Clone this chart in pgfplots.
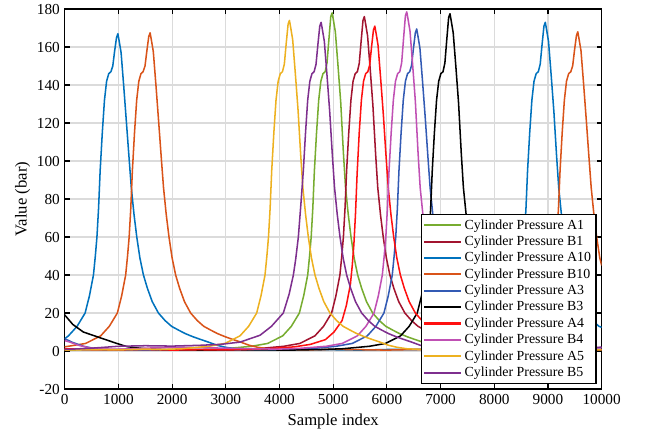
\documentclass[border=0pt]{standalone}
\usepackage{pgfplots}
\pgfplotsset{compat=1.18}
\usepackage{fontspec}
\setmainfont{Liberation Serif}

\definecolor{cA1}{HTML}{77AC30}
\definecolor{cB1}{HTML}{A2142F}
\definecolor{cA10}{HTML}{0072BD}
\definecolor{cB10}{HTML}{D95319}
\definecolor{cA3}{HTML}{325AB4}
\definecolor{cB3}{HTML}{000000}
\definecolor{cA4}{HTML}{FF1010}
\definecolor{cB4}{HTML}{C050B4}
\definecolor{cA5}{HTML}{EDB120}
\definecolor{cB5}{HTML}{7E2F8E}

\begin{document}
\begin{tikzpicture}
\useasboundingbox (-46.6pt,-33.8pt) rectangle (421.4pt,280.1pt);
\begin{axis}[
    scale only axis,
    width=386.6pt, height=273.6pt,
    xmin=0, xmax=10000, ymin=-20, ymax=180,
    xtick={0,1000,...,10000},
    ytick={-20,0,20,...,180},
    yticklabels={-20,0,20,40,60,80,100,120,140,160,180},
    scaled x ticks=false,
    xticklabel style={/pgf/number format/.cd, fixed, 1000 sep={}},
    /pgf/number format/assume math mode=true,
    tick label style={font=\fontsize{11}{13}\selectfont},
    label style={font=\fontsize{12}{14}\selectfont},
    xlabel={Sample index},
    ylabel={Value (bar)},
    ylabel style={yshift=-2pt},
    tick align=inside, tick pos=both,
    major tick length=3.6pt,
    axis line style={line width=1pt},
    every tick/.style={line width=0.8pt, black},
    grid=major,
    grid style={line width=0.8pt, gray!28},
    every axis plot/.append style={line width=1.1pt, line join=round},
    legend cell align=left,
    legend style={at={(1,0)}, anchor=south east, xshift=-3.6pt, yshift=3.6pt,
        draw=black, line width=1pt, font=\fontsize{10}{12}\selectfont,
        inner sep=1.5pt, row sep=-0.65pt},
    legend image code/.code={\draw[#1, line width=1.45pt] (0cm,0cm) -- (0.92cm,0cm);},
]
% A1
\addplot[cA1] coordinates {
(0,0.6) (500,0.8) (1000,0.5) (1500,0.9) (2000,0.6) (2580,0.8) (2980,1.2) (3480,2.5) (3780,4) (4060,8) (4220,13) (4370,20) (4450,29) (4525,40) (4560,50) (4590,60) (4620,75) (4650,95) (4690,115) (4730,132) (4770,142) (4810,146) (4850,147) (4885,151.7) (4920,164) (4955,176) (4980,178) (5005,174) (5040,168) (5090,150) (5140,131) (5190,104.3) (5230,86) (5280,72) (5332,60) (5390,49) (5456,40) (5530,33) (5620,26) (5735,20) (5860,16) (5980,13) (6110,11) (6233,9.2) (6380,7.5) (6530,6) (6666,4.7) (6830,3) (6980,2) (7162,1.2) (7480,0.8) (8000,0.6) (8500,0.9) (9000,0.7) (9500,0.5) (10000,0.8)
};
% B1
\addplot[cB1] coordinates {
(0,1.0) (500,0.7) (1000,0.9) (1500,0.6) (2000,0.8) (2500,0.7) (3180,0.8) (3580,1.2) (4080,2.5) (4380,4) (4660,8) (4820,13) (4970,20) (5050,29) (5125,40) (5160,50) (5190,60) (5220,75) (5250,95) (5290,115) (5330,132) (5370,142) (5410,146) (5450,147) (5485,151.4) (5520,163) (5555,174) (5580,176) (5605,172) (5640,166) (5690,148) (5740,129) (5790,103.7) (5830,86) (5880,72) (5932,60) (5990,49) (6056,40) (6130,33) (6220,26) (6335,20) (6460,16) (6580,13) (6710,11) (6833,9.2) (6980,7.5) (7130,6) (7266,4.7) (7430,3) (7580,2) (7762,1.2) (8080,0.8) (8500,0.6) (9000,0.9) (9500,0.7) (10000,0.6)
};
% A10
\addplot[cA10] coordinates {
(0,6.5) (70,8) (230,13) (380,20) (460,29) (535,40) (570,50) (600,60) (630,75) (660,95) (700,115) (740,132) (780,142) (820,146) (860,147) (895,150) (930,158) (965,165) (990,167) (1015,163) (1050,157) (1100,139) (1150,120) (1200,101) (1240,86) (1290,72) (1342,60) (1400,49) (1466,40) (1540,33) (1630,26) (1745,20) (1870,16) (1990,13) (2120,11) (2243,9.2) (2390,7.5) (2540,6) (2676,4.7) (2840,3) (2990,2) (3172,1.2) (3490,0.8) (4000,0.6) (4500,0.9) (5000,0.7) (5500,0.5) (6000,0.8) (6550,0.8) (6950,1.2) (7450,2.5) (7750,4) (8030,8) (8190,13) (8340,20) (8420,29) (8495,40) (8530,50) (8560,60) (8590,75) (8620,95) (8660,115) (8700,132) (8740,142) (8780,146) (8820,147) (8855,150.9) (8890,161.3) (8925,171) (8950,173) (8975,169) (9010,163) (9060,145) (9110,126) (9160,102.8) (9200,86) (9250,72) (9302,60) (9360,49) (9426,40) (9500,33) (9590,26) (9705,20) (9830,16) (9950,13) (10000,12.5)
};
% B10
\addplot[cB10] coordinates {
(0,2.2) (390,4) (670,8) (830,13) (980,20) (1060,29) (1135,40) (1170,50) (1200,60) (1230,75) (1260,95) (1300,115) (1340,132) (1380,142) (1420,146) (1460,147) (1495,150) (1530,158) (1565,165.5) (1590,167.5) (1615,163.5) (1650,157.5) (1700,139.5) (1750,120.5) (1800,101) (1840,86) (1890,72) (1942,60) (2000,49) (2066,40) (2140,33) (2230,26) (2345,20) (2470,16) (2590,13) (2720,11) (2843,9.2) (2990,7.5) (3140,6) (3276,4.7) (3440,3) (3590,2) (3772,1.2) (4090,0.8) (4500,0.6) (5000,0.9) (5500,0.7) (6000,0.5) (6500,0.8) (7155,0.8) (7555,1.2) (8055,2.5) (8355,4) (8635,8) (8795,13) (8945,20) (9025,29) (9100,40) (9135,50) (9165,60) (9195,75) (9225,95) (9265,115) (9305,132) (9345,142) (9385,146) (9425,147) (9460,150.1) (9495,158.5) (9530,166) (9555,168) (9580,164) (9615,158) (9665,140) (9715,121) (9765,101.3) (9805,86) (9855,72) (9907,60) (9965,49) (10000,45)
};
% A3
\addplot[cA3] coordinates {
(0,6.5) (150,4.5) (350,2.5) (600,1) (900,0.5) (1500,0.6) (2000,0.5) (2500,0.8) (3000,0.6) (3500,0.7) (4155,0.8) (4555,1.2) (5055,2.5) (5355,4) (5635,8) (5795,13) (5945,20) (6025,29) (6100,40) (6135,50) (6165,60) (6195,75) (6225,95) (6265,115) (6305,132) (6345,142) (6385,146) (6425,147) (6460,150.4) (6495,159.4) (6530,167.5) (6555,169.5) (6580,165.5) (6615,159.5) (6665,141.5) (6715,122.5) (6765,101.8) (6805,86) (6855,72) (6907,60) (6965,49) (7031,40) (7105,33) (7195,26) (7310,20) (7435,16) (7555,13) (7685,11) (7808,9.2) (7955,7.5) (8105,6) (8241,4.7) (8405,3) (8555,2) (8737,1.2) (9055,0.8) (9500,0.6) (10000,0.9)
};
% B3
\addplot[cB3] coordinates {
(0,19) (150,14) (347,10) (657,7) (970,4) (1160,2.3) (1500,1.2) (1800,0.8) (2200,0.6) (2700,0.5) (3200,0.7) (3700,0.6) (4200,0.5) (4775,0.8) (5175,1.2) (5675,2.5) (5975,4) (6255,8) (6415,13) (6565,20) (6645,29) (6720,40) (6755,50) (6785,60) (6815,75) (6845,95) (6885,115) (6925,132) (6965,142) (7005,146) (7045,147) (7080,151.6) (7115,163.8) (7150,175.5) (7175,177.5) (7200,173.5) (7235,167.5) (7285,149.5) (7335,130.5) (7385,104.2) (7425,86) (7475,72) (7527,60) (7585,49) (7651,40) (7725,33) (7815,26) (7930,20) (8055,16) (8175,13) (8305,11) (8428,9.2) (8575,7.5) (8725,6) (8861,4.7) (9025,3) (9175,2) (9357,1.2) (9675,0.8) (10000,0.6)
};
% A4
\addplot[cA4] coordinates {
(0,1.2) (500,0.8) (1000,0.6) (1500,0.9) (2000,0.5) (2500,0.7) (3000,0.6) (3375,0.8) (3775,1.2) (4275,2.2) (4575,3.5) (4855,6) (5015,10) (5165,16) (5245,24) (5320,35) (5355,45) (5385,56) (5415,72) (5445,93) (5485,115) (5525,132) (5565,142) (5605,146) (5645,147) (5680,150.6) (5715,160.2) (5750,169) (5775,171) (5800,167) (5835,161) (5885,143) (5935,124) (5985,102.2) (6025,86) (6075,72) (6127,60) (6185,49) (6251,40) (6325,33) (6415,26) (6530,20) (6655,16) (6775,13) (6905,11) (7028,9.2) (7175,7.5) (7325,6) (7461,4.7) (7625,3) (7775,2) (7957,1.2) (8275,0.8) (8800,0.6) (9400,0.9) (10000,0.7)
};
% B4
\addplot[cB4] coordinates {
(0,5.5) (96,4.7) (260,3) (410,2) (592,1.2) (910,0.8) (1500,1.5) (2000,2.0) (2500,1.8) (3000,1.5) (3500,1.2) (3970,1.0) (4370,1.4) (4870,2.5) (5170,4) (5450,8) (5610,13) (5760,20) (5840,29) (5915,40) (5950,50) (5980,60) (6010,75) (6040,95) (6080,115) (6120,132) (6160,142) (6200,146) (6240,147) (6275,151.7) (6310,164.3) (6345,176.5) (6370,178.5) (6395,174.5) (6430,168.5) (6480,150.5) (6530,131.5) (6580,104.5) (6620,86) (6670,72) (6722,60) (6780,49) (6846,40) (6920,33) (7010,26) (7125,20) (7250,16) (7370,13) (7500,11) (7623,9.2) (7770,7.5) (7920,6) (8056,4.7) (8220,3) (8370,2) (8552,1.2) (8870,0.8) (9400,1.2) (10000,1.8)
};
% A5
\addplot[cA5] coordinates {
(0,0.5) (500,0.8) (1000,0.6) (1500,1.0) (1785,0.8) (2185,1.2) (2685,2.5) (2985,4) (3265,8) (3425,13) (3575,20) (3655,29) (3730,40) (3765,50) (3795,60) (3825,75) (3855,95) (3895,115) (3935,132) (3975,142) (4015,146) (4055,147) (4090,151) (4125,161.9) (4160,172) (4185,174) (4210,170) (4245,164) (4295,146) (4345,127) (4395,103.1) (4435,86) (4485,72) (4537,60) (4595,49) (4661,40) (4735,33) (4825,26) (4940,20) (5065,16) (5185,13) (5315,11) (5438,9.2) (5585,7.5) (5735,6) (5871,4.7) (6035,3) (6185,2) (6367,1.2) (6685,0.8) (7200,0.6) (7800,0.9) (8400,0.7) (9000,0.5) (9500,0.8) (10000,0.6)
};
% B5
\addplot[cB5] coordinates {
(0,0.8) (500,1.5) (1000,2.5) (1500,2.8) (2000,2.6) (2500,3.0) (2900,3.5) (3265,4.7) (3637,8.3) (3850,13) (4071,20) (4180,30) (4258,40) (4300,48) (4351,60) (4400,78) (4444,95) (4485,115) (4525,132) (4565,142) (4605,146) (4645,147) (4680,150.9) (4715,161.3) (4750,171) (4775,173) (4800,169) (4835,163) (4885,145) (4935,126) (4985,102.8) (5025,86) (5075,72) (5127,60) (5185,49) (5251,40) (5325,33) (5415,26) (5530,20) (5655,16) (5775,13) (5905,11) (6028,9.2) (6175,7.5) (6325,6) (6461,4.7) (6625,3) (6775,2) (6957,1.5) (7275,1.2) (7800,1.0) (8400,1.3) (9000,1.5) (9500,1.8) (10000,2.0)
};
\legend{Cylinder Pressure A1, Cylinder Pressure B1, Cylinder Pressure A10, Cylinder Pressure B10, Cylinder Pressure A3, Cylinder Pressure B3, Cylinder Pressure A4, Cylinder Pressure B4, Cylinder Pressure A5, Cylinder Pressure B5}
\end{axis}
\end{tikzpicture}
\end{document}
